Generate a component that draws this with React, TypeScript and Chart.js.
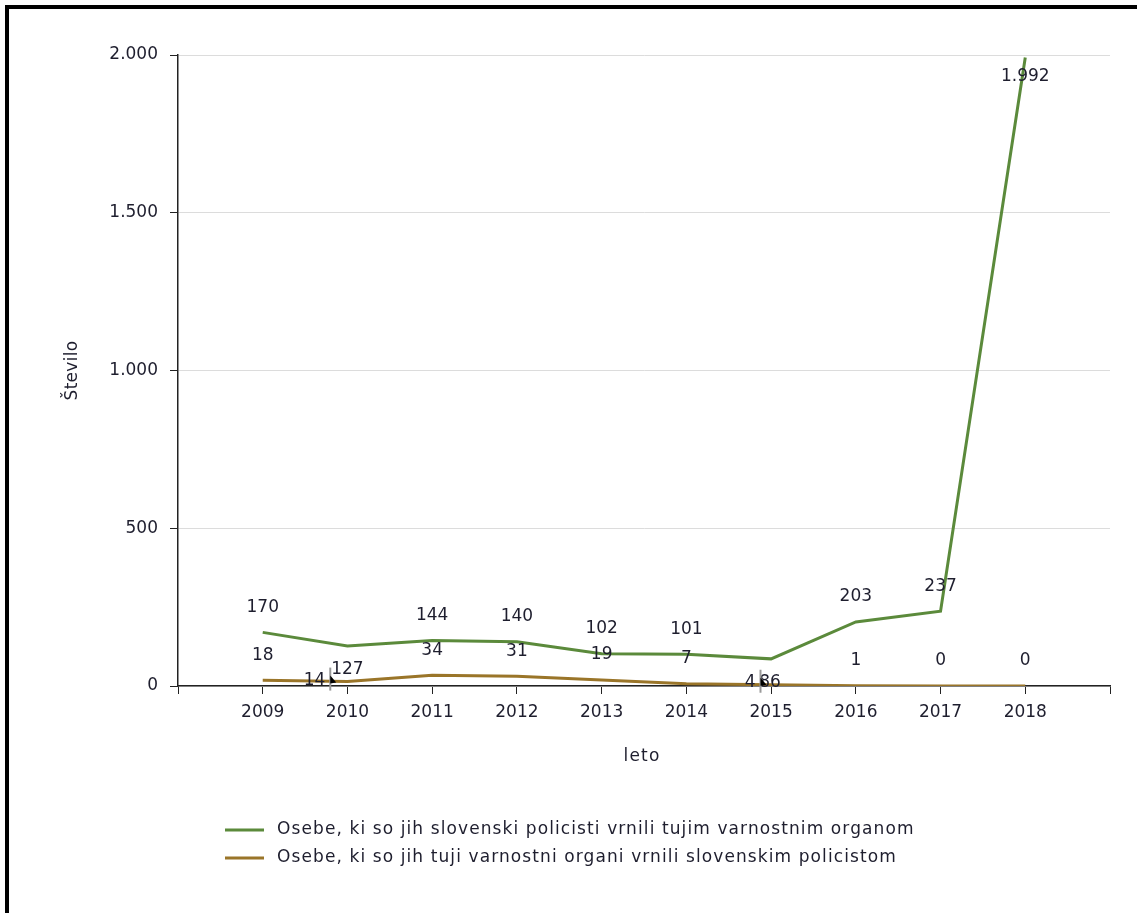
import React, { useEffect, useRef } from "react";
import { Chart, registerables } from "chart.js";

Chart.register(...registerables);

const years = [2009, 2010, 2011, 2012, 2013, 2014, 2015, 2016, 2017, 2018];
const returnedBySlovenianPolice = [170, 127, 144, 140, 102, 101, 86, 203, 237, 1992];
const returnedByForeignAuthorities = [18, 14, 34, 31, 19, 7, 4, 1, 0, 0];
const seriesNames = [
  "Osebe, ki so jih slovenski policisti vrnili tujim varnostnim organom",
  "Osebe, ki so jih tuji varnostni organi vrnili slovenskim policistom",
];
const seriesColors = ["#5b8a3b", "#9a7529"];
const yAxisTitle = "Število";
const xAxisTitle = "leto";
const yMax = 2000;
const yStep = 500;

const FONT = "DejaVu Sans";
const TEXT = "#1e1e2e";

const fmt = (n: number) => String(n).replace(/\B(?=(\d{3})+(?!\d))/g, ".");

// label offsets (style only): key "dataset-index" -> [dx, dy]
const labelOffsets: Record<string, [number, number]> = {
  "0-1": [0, 24],
  "1-1": [-33, -1],
  "0-6": [-1, 24],
  "1-6": [-21, -2],
  "0-9": [0, 19],
};
const leaderMarks = new Set(["1-1", "1-6"]);

const decorPlugin = {
  id: "decor",
  afterDatasetsDraw(chart: any) {
    const { ctx, chartArea } = chart;
    ctx.save();
    ctx.font = `17px "${FONT}"`;
    ctx.textAlign = "center";
    ctx.textBaseline = "middle";
    chart.data.datasets.forEach((ds: any, di: number) => {
      const meta = chart.getDatasetMeta(di);
      meta.data.forEach((pt: any, i: number) => {
        const key = `${di}-${i}`;
        const off = labelOffsets[key] || [0, -25];
        const text = fmt(ds.data[i].y);
        const lx = pt.x + off[0];
        const ly = pt.y + off[1];
        if (leaderMarks.has(key)) {
          const w = ctx.measureText(text).width;
          const mx = lx + w / 2 + 5;
          ctx.strokeStyle = "#9a9a9a";
          ctx.lineWidth = 2;
          ctx.beginPath();
          ctx.moveTo(mx, ly - 13);
          ctx.lineTo(mx, ly + 10);
          ctx.stroke();
          ctx.fillStyle = "#000";
          ctx.beginPath();
          ctx.moveTo(mx, ly - 5);
          ctx.lineTo(mx + 6, ly + 2);
          ctx.lineTo(mx, ly + 3);
          ctx.closePath();
          ctx.fill();
        }
        ctx.fillStyle = TEXT;
        ctx.fillText(text, lx, ly);
      });
    });

    // axis titles
    ctx.fillStyle = TEXT;
    ctx.font = `17px "${FONT}"`;
    ctx.textAlign = "center";
    ctx.textBaseline = "middle";
    ctx.letterSpacing = "1.2px";
    ctx.fillText(xAxisTitle, (chartArea.left + chartArea.right) / 2 - 2, chartArea.bottom + 71);
    ctx.letterSpacing = "0.3px";
    ctx.save();
    ctx.translate(chartArea.left - 105, (chartArea.top + chartArea.bottom) / 2);
    ctx.rotate(-Math.PI / 2);
    ctx.fillText(yAxisTitle, 0, 0);
    ctx.restore();

    // legend
    ctx.textAlign = "left";
    ctx.letterSpacing = "1.1px";
    seriesNames.forEach((name, i) => {
      const y = chartArea.bottom + 144 + i * 28;
      ctx.strokeStyle = seriesColors[i];
      ctx.lineWidth = 3;
      ctx.beginPath();
      ctx.moveTo(chartArea.left + 47, y);
      ctx.lineTo(chartArea.left + 86, y);
      ctx.stroke();
      ctx.fillStyle = TEXT;
      ctx.fillText(name, chartArea.left + 99, y);
    });
    ctx.restore();
  },
};

export default function App() {
  const ref = useRef<HTMLCanvasElement>(null);
  useEffect(() => {
    if (!ref.current) return;
    const chart = new Chart(ref.current, {
      type: "line",
      data: {
        datasets: [returnedBySlovenianPolice, returnedByForeignAuthorities].map((vals, k) => ({
          label: seriesNames[k],
          data: vals.map((v, i) => ({ x: years[i], y: v })),
          borderColor: seriesColors[k],
          backgroundColor: seriesColors[k],
          borderWidth: 3,
          pointRadius: 0,
          tension: 0,
        })),
      },
      options: {
        animation: false,
        responsive: false,
        maintainAspectRatio: false,
        layout: { padding: { left: 0, top: 55, right: 27, bottom: 0 } },
        plugins: { legend: { display: false }, tooltip: { enabled: false } },
        scales: {
          x: {
            type: "linear",
            min: years[0] - 1,
            max: years[years.length - 1] + 1,
            afterFit: (s: any) => {
              s.height = 227;
            },
            ticks: {
              stepSize: 1,
              autoSkip: false,
              maxRotation: 0,
              padding: 8,
              color: TEXT,
              font: { family: FONT, size: 17 },
              callback: (v: any) => (years.includes(Number(v)) ? String(v) : ""),
            },
            grid: {
              drawOnChartArea: false,
              tickLength: 8,
              tickColor: "#222",
            },
            border: { color: "#222", width: 1.5 },
          },
          y: {
            min: 0,
            max: yMax,
            afterFit: (s: any) => {
              s.width = 178;
            },
            ticks: {
              stepSize: yStep,
              padding: 12,
              color: TEXT,
              font: { family: FONT, size: 17 },
              callback: (v: any) => fmt(Number(v)),
            },
            grid: {
              color: "#dcdcdc",
              tickLength: 8,
              tickColor: "#222",
            },
            border: { color: "#222", width: 1.5 },
          },
        },
      },
      plugins: [decorPlugin],
    });
    return () => chart.destroy();
  }, []);
  return (
    <div style={{ position: "absolute", left: 0, top: 0, width: 1137, height: 913, background: "#fff" }}>
      <div
        style={{
          position: "absolute",
          left: 5,
          top: 5,
          width: 1132,
          height: 908,
          borderLeft: "4px solid #000",
          borderTop: "4px solid #000",
          boxSizing: "border-box",
        }}
      />
      <canvas ref={ref} width={1137} height={913} style={{ position: "absolute", left: 0, top: 0, width: 1137, height: 913 }} />
    </div>
  );
}
